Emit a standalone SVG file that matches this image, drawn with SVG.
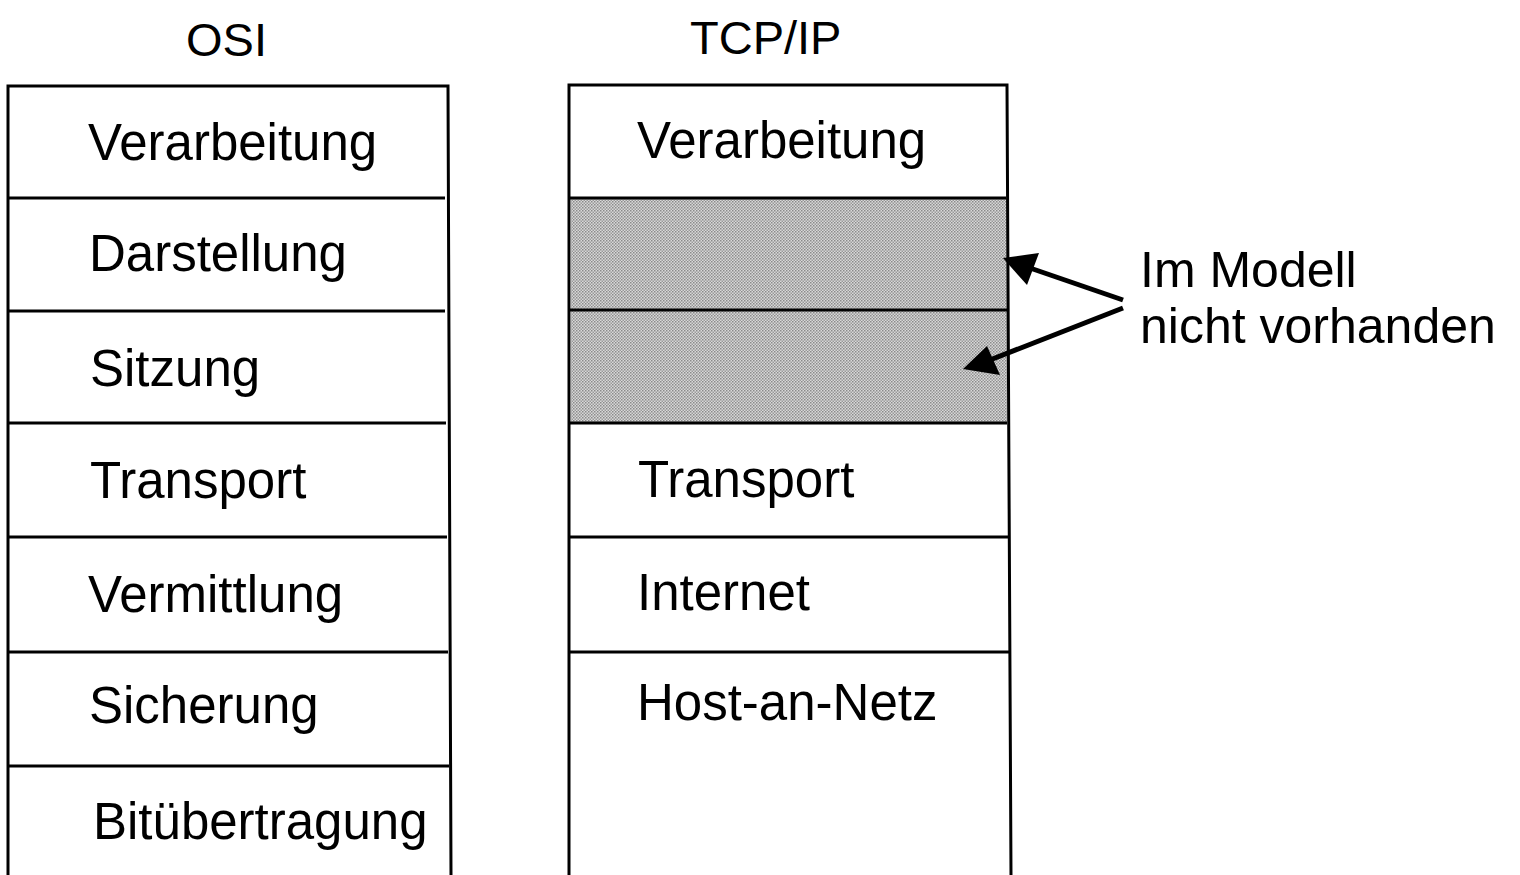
<svg xmlns="http://www.w3.org/2000/svg" width="1520" height="875" viewBox="0 0 1520 875">
<style>
.t{font-family:"Liberation Sans",Arial,sans-serif;font-size:51px;fill:#000}
.n{font-family:"Liberation Sans",Arial,sans-serif;font-size:50px;fill:#000}
.h{font-family:"Liberation Sans",Arial,sans-serif;font-size:47px;fill:#000}
.b{fill:none;stroke:#000;stroke-width:3}
.a{stroke:#000;stroke-width:5;fill:none}
</style>
<defs>
<pattern id="dots" width="3" height="3" patternUnits="userSpaceOnUse">
<rect width="3" height="3" fill="#d8d8d8"/>
<rect width="1.5" height="1.5" fill="#8a8a8a"/>
<rect x="1.5" y="1.5" width="1.5" height="1.5" fill="#9a9a9a"/>
</pattern>
</defs>
<rect width="1520" height="875" fill="#fff"/>
<text class="h" x="186" y="56">OSI</text>
<text class="h" x="690" y="54">TCP/IP</text>

<g id="osi">
<path class="b" d="M8,875 L8,86 L448,86 L451,875"/>
<line class="b" x1="8" y1="198" x2="445" y2="198"/>
<line class="b" x1="8" y1="311" x2="445" y2="311"/>
<line class="b" x1="8" y1="423" x2="446" y2="423"/>
<line class="b" x1="8" y1="537" x2="447" y2="537"/>
<line class="b" x1="8" y1="652" x2="448" y2="652"/>
<line class="b" x1="8" y1="766" x2="449" y2="766"/>
<text class="t" x="88" y="160">Verarbeitung</text>
<text class="t" x="89" y="271">Darstellung</text>
<text class="t" x="90" y="386">Sitzung</text>
<text class="t" x="90" y="498">Transport</text>
<text class="t" x="88" y="612">Vermittlung</text>
<text class="t" x="89" y="723">Sicherung</text>
<text class="t" x="93" y="839">Bitübertragung</text>
</g>

<g id="tcpip">
<rect x="571" y="198" width="436" height="225" fill="url(#dots)"/>
<path class="b" d="M569,875 L569,85 L1007,85 L1011,875"/>
<line class="b" x1="569" y1="198" x2="1006" y2="198"/>
<line class="b" x1="569" y1="310" x2="1007" y2="310"/>
<line class="b" x1="569" y1="423" x2="1007" y2="423"/>
<line class="b" x1="569" y1="537" x2="1008" y2="537"/>
<line class="b" x1="569" y1="652" x2="1009" y2="652"/>
<text class="t" x="637" y="158">Verarbeitung</text>
<text class="t" x="638" y="497">Transport</text>
<text class="t" x="637" y="610">Internet</text>
<text class="t" x="637" y="720">Host-an-Netz</text>
</g>

<g id="note">
<text class="n" x="1140" y="287">Im Modell</text>
<text class="n" x="1140" y="343">nicht vorhanden</text>
</g>

<g id="connectors">
<line class="a" x1="1123" y1="300" x2="1030" y2="268"/>
<path d="M1003,258 L1039,253 L1027,285 z" fill="#000"/>
<line class="a" x1="1123" y1="308" x2="990" y2="360"/>
<path d="M963,369 L987,346 L1000,375 z" fill="#000"/>
</g>
</svg>
